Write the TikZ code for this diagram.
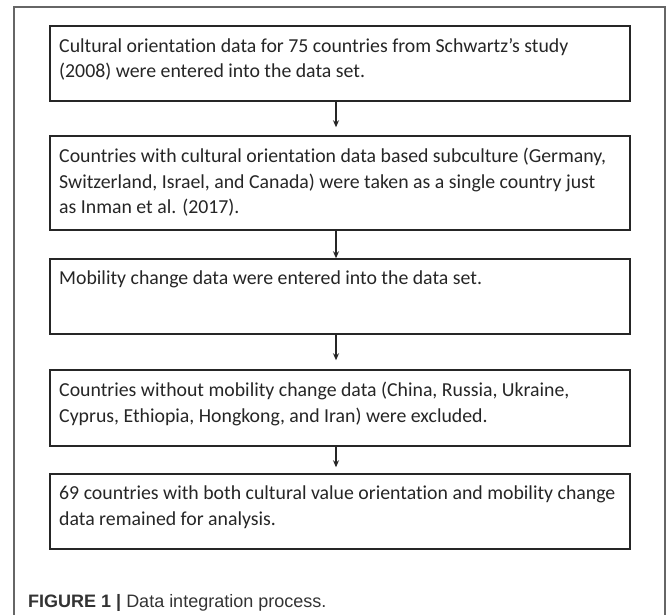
\documentclass[tikz,border=0pt]{standalone}
\usepackage{fontspec}
\setmainfont{Carlito}[Ligatures={NoCommon}]
\newfontfamily\capfont{Liberation Sans}
\usetikzlibrary{arrows.meta}
\begin{document}
\begin{tikzpicture}[x=1pt,y=-1pt,
  box/.style={draw=black!85, line width=1.5pt, minimum width=580pt, inner sep=0pt},
  txt/.style={anchor=north west, inner sep=0pt, align=left, font=\fontsize{19.8}{25.5}\selectfont, text=black!85},
  arr/.style={-{Stealth[length=7pt,width=6pt]}, line width=1.3pt, black!85}
]
\useasboundingbox (0,0) rectangle (669,615);
\fill[white] (0,0) rectangle (669,615);
\draw[black!60, line width=1.4pt] (14,615) -- (14,7) -- (665,7) -- (665,615);

\node[box, minimum height=75pt] (b1) at (340,63.5) {};
\node[box, minimum height=94pt] (b2) at (340,183) {};
\node[box, minimum height=75pt] (b3) at (340,296.5) {};
\node[box, minimum height=76pt] (b4) at (340,408) {};
\node[box, minimum height=75pt] (b5) at (340,511.5) {};

\node[txt] (t1) at (59,38) {Cultural orientation data for 75 countries from Schwartz’s study\\(2008) were entered into the data set.};
\node[txt] (t2) at (59,148) {Countries with cultural orientation data based subculture (Germany,\\Switzerland, Israel, and Canada) were taken as a single country just\\as Inman et al. (2017).};
\node[txt] (t3) at (59,271) {Mobility change data were entered into the data set.};
\node[txt] (t4) at (59,382) {Countries without mobility change data (China, Russia, Ukraine,\\Cyprus, Ethiopia, Hongkong, and Iran) were excluded.};
\node[txt] (t5) at (59,486) {69 countries with both cultural value orientation and mobility change\\data remained for analysis.};

\draw[arr, shorten >=8pt] ([xshift=-4pt]b1.south) -- ([xshift=-4pt]b2.north);
\draw[arr] ([xshift=-4pt]b2.south) -- ([xshift=-4pt]b3.north);
\draw[arr, shorten >=9pt] ([xshift=-4pt]b3.south) -- ([xshift=-4pt]b4.north);
\draw[arr, shorten >=6pt] ([xshift=-4pt]b4.south) -- ([xshift=-4pt]b5.north);

\node[anchor=base west, inner sep=0pt, font=\capfont\fontsize{18}{22}\selectfont, text=black!80] (cap) at (28,607) {\textbf{FIGURE 1 |} Data integration process.};
\end{tikzpicture}
\end{document}
